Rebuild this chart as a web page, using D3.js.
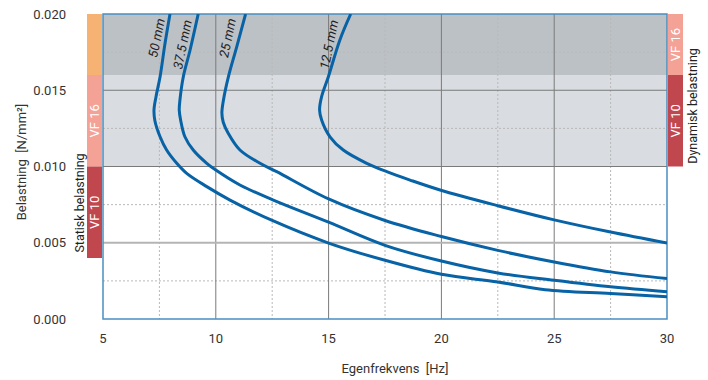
<!DOCTYPE html>
<html><head><meta charset="utf-8">
<script src="https://cdn.jsdelivr.net/npm/d3@7"></script>
<style>
body{margin:0;background:#fff;}
text{font-family:"Liberation Sans Narrow","Roboto","Liberation Sans",sans-serif;white-space:pre;}
</style></head>
<body><svg id="c" width="708" height="380"></svg>
<script>
// ---- data ----
const xTicks = [5, 10, 15, 20, 25, 30];
const xMinor = [7.5, 12.5, 17.5, 22.5, 27.5];
const yTicks = [0, 0.005, 0.010, 0.015, 0.020];
const yMinor = [0.0025, 0.0075, 0.0125, 0.0175];
const seriesNames = ["50 mm", "37.5 mm", "25 mm", "12.5 mm"];
const freq50  = [7.97, 7.75, 7.53, 7.35, 7.26, 7.3, 7.53, 7.82, 8.27, 8.71, 9.6, 10.63, 12.5, 15, 17.5, 20, 22.5, 24.6, 27.5, 30];
const load50  = [0.0200, 0.01808, 0.01589, 0.01458, 0.0137, 0.0130, 0.01195, 0.01108, 0.01021, 0.00955, 0.00868, 0.0078, 0.00646, 0.00498, 0.00385, 0.00293, 0.00243, 0.00192, 0.00167, 0.00146];
const freq375 = [9.22, 8.86, 8.56, 8.41, 8.38, 8.44, 8.63, 9.0, 9.6, 10, 11.07, 12.55, 15, 17.5, 20, 22.5, 25, 27.5, 30];
const load375 = [0.0200, 0.01764, 0.01589, 0.01436, 0.0137, 0.01305, 0.01195, 0.01108, 0.01021, 0.00977, 0.00879, 0.0078, 0.00635, 0.00483, 0.0038, 0.00302, 0.00254, 0.00211, 0.00178];
const freq25  = [11.32, 10.93, 10.56, 10.34, 10.27, 10.33, 10.55, 11.07, 11.96, 12.7, 15, 17.5, 20, 22.5, 25, 27.5, 30];
const load25  = [0.0200, 0.01786, 0.01589, 0.01436, 0.0135, 0.0129, 0.01218, 0.01108, 0.01021, 0.00966, 0.00787, 0.00646, 0.00541, 0.0045, 0.00374, 0.00309, 0.00265];
const freq125 = [15.98, 15.5, 14.99, 14.69, 14.6, 14.69, 15.06, 15.65, 16.69, 17.58, 18.61, 19.94, 22.5, 25, 27.5, 30];
const load125 = [0.0200, 0.0183, 0.01589, 0.01458, 0.0137, 0.01305, 0.01195, 0.01108, 0.01021, 0.00966, 0.00911, 0.00846, 0.00743, 0.0065, 0.0057, 0.00498];
// shaded load zones [from, to]
const zoneDark  = [0.016, 0.020];
const zoneLight = [0.010, 0.016];
// side bars: label, from, to, colour key
const leftBars  = [["", 0.016, 0.020, "orange"], ["VF 16", 0.010, 0.016, "pink"], ["VF 10", 0.004, 0.010, "red"]];
const rightBars = [["VF 16", 0.016, 0.020, "pink"], ["VF 10", 0.010, 0.016, "red"]];
// curve label anchor points [freq, load]
const labelFreq = [7.37, 8.52, 10.52, 15.02];
const labelLoad = [0.01843, 0.0180, 0.01843, 0.0180];

// ---- drawing ----
const svg = d3.select("#c");
const m = {l:103, r:667, t:14, b:319};
const x = d3.scaleLinear().domain([5, 30]).range([m.l, m.r]);
const y = d3.scaleLinear().domain([0, 0.020]).range([m.b, m.t]);
const colors = {orange:"#f6b273", pink:"#f4a196", red:"#c1474f"};

// zones
svg.append("rect").attr("x", x(5)).attr("width", x(30)-x(5))
  .attr("y", y(zoneDark[1])).attr("height", y(zoneDark[0])-y(zoneDark[1])).attr("fill", "#bcc1c6");
svg.append("rect").attr("x", x(5)).attr("width", x(30)-x(5))
  .attr("y", y(zoneLight[1])).attr("height", y(zoneLight[0])-y(zoneLight[1])).attr("fill", "#d9dce0");

// minor grid
svg.append("g").selectAll("line").data(xMinor).join("line")
  .attr("x1", d=>x(d)).attr("x2", d=>x(d)).attr("y1", m.t).attr("y2", m.b)
  .attr("stroke", "#b8b8b8").attr("stroke-dasharray", "2,2").attr("stroke-width", 1);
svg.append("g").selectAll("line").data(yMinor).join("line")
  .attr("x1", m.l).attr("x2", m.r).attr("y1", d=>y(d)).attr("y2", d=>y(d))
  .attr("stroke", "#b8b8b8").attr("stroke-dasharray", "2,2").attr("stroke-width", 1);
// major grid
svg.append("g").selectAll("line").data(xTicks.slice(1, -1)).join("line")
  .attr("x1", d=>x(d)).attr("x2", d=>x(d)).attr("y1", m.t).attr("y2", m.b)
  .attr("stroke", "#7a7a7a").attr("stroke-width", 1);
svg.append("g").selectAll("line").data(yTicks.slice(1, -1)).join("line")
  .attr("x1", m.l).attr("x2", m.r).attr("y1", d=>y(d)).attr("y2", d=>y(d))
  .attr("stroke", d => d < 0.007 ? "#b4b4b4" : "#7a7a7a").attr("stroke-width", d => d < 0.007 ? 2 : 1);

// side bars
function bars(data, x0, w) {
  const g = svg.append("g");
  data.forEach(([lab, a, b, c]) => {
    g.append("rect").attr("x", x0).attr("width", w).attr("y", y(b)).attr("height", y(a)-y(b)).attr("fill", colors[c]);
    if (lab) {
      const cy = (y(a)+y(b))/2, cx = x0 + w/2;
      g.append("text").attr("transform", `translate(${cx+4.5},${cy}) rotate(-90)`)
        .attr("text-anchor", "middle").attr("fill", "#fff").attr("font-size", 13).text(lab);
    }
  });
}
bars(leftBars, 87, 15);
bars(rightBars, 668, 15);

// border
svg.append("rect").attr("x", m.l).attr("y", m.t).attr("width", m.r-m.l).attr("height", m.b-m.t)
  .attr("fill", "none").attr("stroke", "#4a8ec0").attr("stroke-width", 1.5);

// curves
const curves = [[freq50, load50], [freq375, load375], [freq25, load25], [freq125, load125]];
const line = d3.line().x(d=>x(d[0])).y(d=>y(d[1])).curve(d3.curveCatmullRom.alpha(0.5));
svg.append("defs").append("clipPath").attr("id", "clip").append("rect")
  .attr("x", m.l).attr("y", m.t).attr("width", m.r-m.l).attr("height", m.b-m.t);
svg.append("g").attr("clip-path", "url(#clip)").selectAll("path").data(curves).join("path")
  .attr("d", ([f, v]) => line(f.map((d, i) => [d, v[i]])))
  .attr("fill", "none").attr("stroke", "#0763a6").attr("stroke-width", 3);

// curve labels
svg.append("g").selectAll("text").data(seriesNames).join("text")
  .attr("transform", (d, i) => `translate(${x(labelFreq[i])},${y(labelLoad[i])}) rotate(-78.5)`)
  .attr("text-anchor", "middle").attr("dy", "0.35em").attr("font-size", 13).attr("fill", "#222")
  .attr("font-style", "italic").text(d=>d);

// tick labels
svg.append("g").selectAll("text").data(yTicks).join("text")
  .attr("x", 66).attr("y", d=>y(d)).attr("dy", "0.35em").attr("text-anchor", "end")
  .attr("font-size", 13).attr("fill", "#333").text(d=>d3.format(".3f")(d));
svg.append("g").selectAll("text").data(xTicks).join("text")
  .attr("x", d=>x(d)).attr("y", 343).attr("text-anchor", "middle")
  .attr("font-size", 13).attr("fill", "#333").text(d=>d);

// axis titles
svg.append("text").attr("x", 395).attr("y", 373).attr("text-anchor", "middle")
  .attr("font-size", 13).attr("fill", "#333").text("Egenfrekvens  [Hz]");
svg.append("text").attr("transform", "translate(26,162) rotate(-90)").attr("text-anchor", "middle")
  .attr("font-size", 13).attr("fill", "#333").text("Belastning  [N/mm²]");
svg.append("text").attr("transform", "translate(84,203) rotate(-90)").attr("text-anchor", "middle")
  .attr("font-size", 12.5).attr("fill", "#222").text("Statisk belastning");
svg.append("text").attr("transform", "translate(697,106) rotate(-90)").attr("text-anchor", "middle")
  .attr("font-size", 12.5).attr("fill", "#222").text("Dynamisk belastning");
</script></body></html>
